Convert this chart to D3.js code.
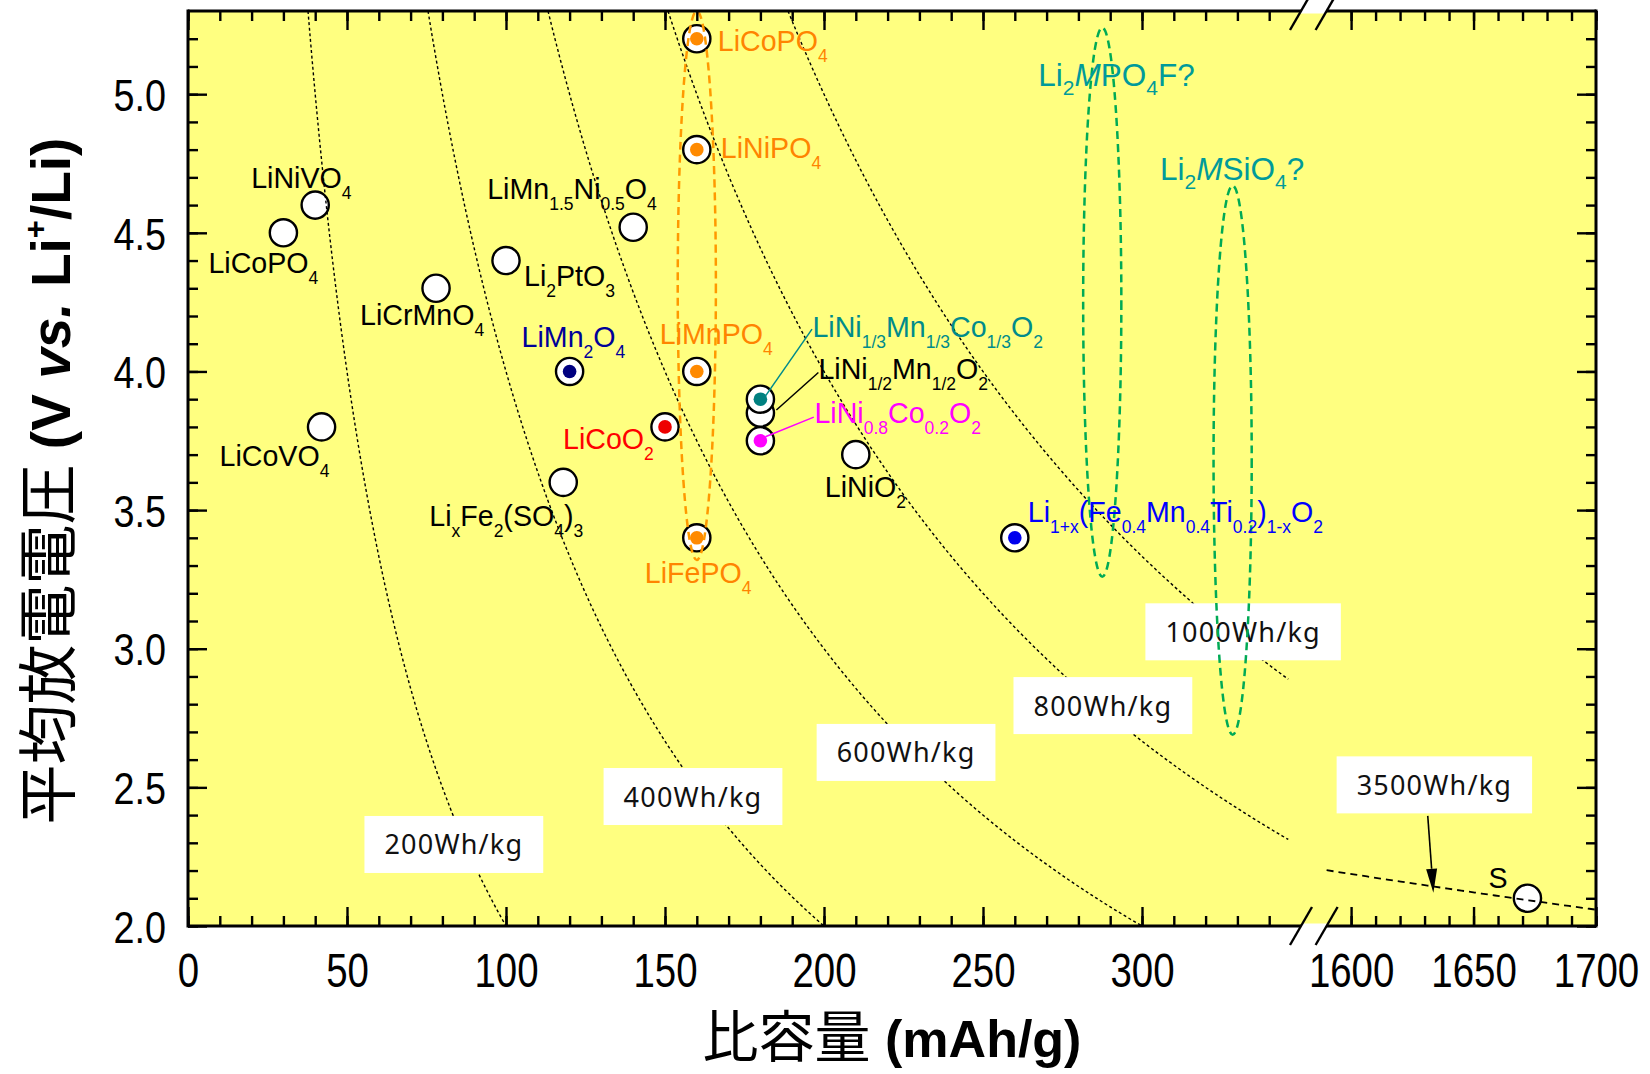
<!DOCTYPE html>
<html>
<head>
<meta charset="utf-8">
<script src="https://cdn.jsdelivr.net/npm/d3@7"></script>
<style>
  body { margin: 0; background: #fff; }
  svg { display: block; }
</style>
</head>
<body>
<svg id="chart" width="1650" height="1074"></svg>
<script>
// ---------- data ----------
const capacityTicksLeft  = [0, 50, 100, 150, 200, 250, 300];
const capacityTicksRight = [1600, 1650, 1700];
const voltageTicks       = [2.0, 2.5, 3.0, 3.5, 4.0, 4.5, 5.0];

// cathode materials (markup: _{} subscript, ^{} superscript, *..* italic)
const materialLabels = [
  "LiNiVO_{4}", "LiCoPO_{4}", "LiCrMnO_{4}", "LiCoVO_{4}", "Li_{2}PtO_{3}",
  "LiMn_{1.5}Ni_{0.5}O_{4}", "LiMn_{2}O_{4}", "LiCoO_{2}", "Li_{x}Fe_{2}(SO_{4})_{3}",
  "LiCoPO_{4}", "LiNiPO_{4}", "LiMnPO_{4}", "LiFePO_{4}",
  "LiNi_{1/2}Mn_{1/2}O_{2}", "LiNi_{1/3}Mn_{1/3}Co_{1/3}O_{2}", "LiNi_{0.8}Co_{0.2}O_{2}",
  "LiNiO_{2}", "Li_{1+x}(Fe_{0.4}Mn_{0.4}Ti_{0.2})_{1-x}O_{2}", "S"
];
const capacities = [40, 30, 78, 42, 100, 140, 120, 150, 118, 160, 160, 160, 160, 180, 180, 180, 210, 260, 1672];
const voltages   = [4.6, 4.5, 4.3, 3.8, 4.4, 4.52, 4.0, 3.8, 3.6, 5.2, 4.8, 4.0, 3.4, 3.85, 3.9, 3.75, 3.7, 3.4, 2.1];
const dotColors  = [null, null, null, null, null, null, "#000080", "#ee0000", null,
  "#ff8a00", "#ff8a00", "#ff8a00", "#ff8a00", null, "#008080", "#ff00ff", null, "#0000ee", null];
const labelColors = ["#000", "#000", "#000", "#000", "#000", "#000", "#000099", "#ff0000", "#000",
  "#ff8400", "#ff8400", "#ff8400", "#ff8400", "#000", "#008b8b", "#ff00ff", "#000", "#0000ff", "#000"];

// energy-density iso-lines V = E / C
const energyLevels = [200, 400, 600, 800, 1000];
const energyLabels = ["200Wh/kg", "400Wh/kg", "600Wh/kg", "800Wh/kg", "1000Wh/kg"];
const energyLabelC = [83.6, 158.8, 225.8, 287.7, 331.8];
const energyLabelV = [2.294, 2.467, 2.626, 2.795, 3.061];
const sulfurEnergy = 3500;
const sulfurLabel  = "3500Wh/kg";
const sulfurLabelC = 1634;
const sulfurLabelV = 2.509;
const sulfurArrowFrom = [1631.3, 2.397];
const sulfurArrowTo   = [1633.6, 2.12];

// material families (dashed ellipses)
const groupLabels = ["", "Li_{2}*M*PO_{4}F?", "Li_{2}*M*SiO_{4}?"];
const groupCx = [160, 287.5, 328.5];
const groupCy = [4.31, 4.25, 3.68];
const groupRx = [6.0, 6.0, 6.0];
const groupRy = [0.99, 0.99, 0.99];
const groupColors = ["#ff9900", "#00aa55", "#00aa55"];
const groupLabelColor = "#009a9a";

// ---------- layout ----------
const svg = d3.select("#chart");
const xL = d3.scaleLinear().domain([0, 350]).range([188, 1301]);
const xR = d3.scaleLinear().domain([1590, 1700]).range([1326.6, 1596]);
const y  = d3.scaleLinear().domain([2, 5.3]).range([926, 11]);
const xOf = c => (c >= 1000 ? xR(c) : xL(c));
const X0 = xL.range()[0], X1 = xR.range()[1], Y0 = y.range()[1], Y1 = y.range()[0];

// label offsets (px) from each marker to the label's start / baseline
const labelOffsets = [
  [-64, -17], [-75, 40], [-76, 37], [-102, 39], [18, 25],
  [-146, -28], [-48, -24], [-102, 22], [-134, 44],
  [21, 12], [24, 8], [-37, -27], [-52, 45],
  [58, -34], [52, -62], [54, -18],
  [-31, 42], [13, -16], [-39, -10]
];
// leader lines (marker-relative, label end -> marker end)
const leaders = [
  { i: 13, from: [58, -40.5], to: [16, -3] },
  { i: 14, from: [51.6, -70], to: [5, -3] },
  { i: 15, from: [53.4, -23.6], to: [5, -4] }
];
const groupLabelOffsets = [null, [-64, 58.5], [-72.6, -6]];

const LABEL_FONT = "'Liberation Sans', Arial, Helvetica, sans-serif";
const BOX_FONT = "'Noto Sans', 'DejaVu Sans', sans-serif";
const CJK_FONT = "'Noto Sans CJK JP', 'Noto Sans CJK SC', sans-serif";

function parseMarkup(s) {
  const out = []; let buf = "", italic = false, i = 0;
  while (i < s.length) {
    const ch = s[i];
    if ((ch === "_" || ch === "^") && s[i + 1] === "{") {
      if (buf) { out.push({ t: buf, mode: "n", italic }); buf = ""; }
      const j = s.indexOf("}", i);
      out.push({ t: s.slice(i + 2, j), mode: ch === "_" ? "sub" : "sup", italic });
      i = j + 1;
    } else if (ch === "*") {
      if (buf) { out.push({ t: buf, mode: "n", italic }); buf = ""; }
      italic = !italic; i++;
    } else { buf += ch; i++; }
  }
  if (buf) out.push({ t: buf, mode: "n", italic });
  return out;
}
function richText(textSel, markup, size, subSize, subShift) {
  let shift = 0;
  parseMarkup(markup).forEach(sg => {
    const target = sg.mode === "sub" ? subShift : sg.mode === "sup" ? -subShift : 0;
    textSel.append("tspan")
      .attr("dy", target - shift)
      .attr("font-size", sg.mode === "n" ? size : subSize)
      .attr("font-style", sg.italic ? "italic" : null)
      .text(sg.t);
    shift = target;
  });
}

// plot background
svg.append("defs").append("clipPath").attr("id", "plotClip")
  .append("rect").attr("x", X0).attr("y", Y0).attr("width", X1 - X0).attr("height", Y1 - Y0);
svg.append("rect").attr("x", X0).attr("y", Y0).attr("width", X1 - X0).attr("height", Y1 - Y0)
  .attr("fill", "#ffff80");

const plot = svg.append("g").attr("clip-path", "url(#plotClip)");

// markers
const idx = d3.range(materialLabels.length);
const markers = plot.selectAll("g.marker").data(idx).join("g").attr("class", "marker")
  .attr("transform", i => `translate(${xOf(capacities[i])},${y(voltages[i])})`);
markers.append("circle").attr("r", 13.6).attr("fill", "#fff").attr("stroke", "#000").attr("stroke-width", 2.4);
markers.filter(i => dotColors[i]).append("circle").attr("r", 6.8).attr("fill", i => dotColors[i]);

// energy-density curves
const curve = d3.line().x(d => d[0]).y(d => d[1]);
energyLevels.forEach(E => {
  const c0 = E / 5.3, c1 = Math.min(E / 2, 346);
  const pts = d3.range(0, 101).map(k => {
    const c = c0 + (c1 - c0) * k / 100;
    return [xL(c), y(E / c)];
  });
  plot.append("path").attr("d", curve(pts)).attr("fill", "none")
    .attr("stroke", "#000").attr("stroke-width", 1.4).attr("stroke-dasharray", "3 2.6");
});
{
  const pts = d3.range(0, 41).map(k => {
    const c = 1590 + 110 * k / 40;
    return [xR(c), y(sulfurEnergy / c)];
  });
  plot.append("path").attr("d", curve(pts)).attr("fill", "none")
    .attr("stroke", "#000").attr("stroke-width", 1.8).attr("stroke-dasharray", "7 5");
}

// energy labels in white boxes
function energyBox(cx, cy, text) {
  const g = plot.append("g").attr("transform", `translate(${cx},${cy})`);
  const rect = g.append("rect").attr("fill", "#fff");
  const t = g.append("text").attr("text-anchor", "middle").attr("y", 10)
    .attr("font-family", BOX_FONT).attr("font-size", 27).attr("letter-spacing", 1.2)
    .attr("fill", "#111").text(text);
  const bb = t.node().getBBox();
  const w = bb.width + 40, h = 57;
  rect.attr("x", -w / 2).attr("y", -h / 2).attr("width", w).attr("height", h);
}
energyLevels.forEach((E, i) => energyBox(xL(energyLabelC[i]), y(energyLabelV[i]), energyLabels[i]));
energyBox(xR(sulfurLabelC), y(sulfurLabelV), sulfurLabel);

// arrow to the sulfur line
{
  const ax = xR(sulfurArrowFrom[0]), ay = y(sulfurArrowFrom[1]);
  const bx = xR(sulfurArrowTo[0]), by = y(sulfurArrowTo[1]);
  const len = Math.hypot(bx - ax, by - ay), ux = (bx - ax) / len, uy = (by - ay) / len;
  const hl = 24, hw = 5.5;
  const baseX = bx - ux * hl, baseY = by - uy * hl;
  plot.append("line").attr("x1", ax).attr("y1", ay).attr("x2", baseX).attr("y2", baseY)
    .attr("stroke", "#000").attr("stroke-width", 1.6);
  plot.append("polygon").attr("fill", "#000").attr("points", [
    [bx, by], [baseX - uy * hw, baseY + ux * hw], [baseX + uy * hw, baseY - ux * hw]
  ].map(p => p.join(",")).join(" "));
}

// family ellipses
plot.selectAll("ellipse.family").data(d3.range(groupCx.length)).join("ellipse")
  .attr("class", "family")
  .attr("cx", i => xL(groupCx[i])).attr("cy", i => y(groupCy[i]))
  .attr("rx", i => xL(groupCx[i] + groupRx[i]) - xL(groupCx[i]))
  .attr("ry", i => y(groupCy[i] - groupRy[i]) - y(groupCy[i]))
  .attr("fill", "none").attr("stroke", i => groupColors[i])
  .attr("stroke-width", 2.5).attr("stroke-dasharray", "8 5");

// family labels
d3.range(groupCx.length).filter(i => groupLabels[i]).forEach(i => {
  const tx = xL(groupCx[i]) + groupLabelOffsets[i][0];
  const ty = y(groupCy[i] + groupRy[i]) + groupLabelOffsets[i][1];
  const t = svg.append("text").attr("x", tx).attr("y", ty)
    .attr("font-family", LABEL_FONT).attr("fill", groupLabelColor);
  richText(t, groupLabels[i], 31.5, 21, 9);
});

// leader lines
leaders.forEach(l => {
  const mx = xOf(capacities[l.i]), my = y(voltages[l.i]);
  svg.append("line")
    .attr("x1", mx + l.from[0]).attr("y1", my + l.from[1])
    .attr("x2", mx + l.to[0]).attr("y2", my + l.to[1])
    .attr("stroke", labelColors[l.i]).attr("stroke-width", 1.5);
});

// material labels
idx.forEach(i => {
  const t = svg.append("text")
    .attr("x", xOf(capacities[i]) + labelOffsets[i][0])
    .attr("y", y(voltages[i]) + labelOffsets[i][1])
    .attr("font-family", LABEL_FONT).attr("fill", labelColors[i]);
  richText(t, materialLabels[i], 28.6, 17.5, 11);
});

// ---------- axes ----------
const TICK = "#000";
function styleAxis(g) {
  g.select(".domain").remove();
  g.selectAll(".tick line").attr("stroke", TICK).attr("stroke-width", 2.4);
}
const fmt1 = d3.format(".1f");

// bottom and top
[[xL, capacityTicksLeft, d3.range(0, 341, 10)], [xR, capacityTicksRight, d3.range(1600, 1701, 10)]]
  .forEach(([sc, major, minor]) => {
    svg.append("g").attr("transform", `translate(0,${Y1})`)
      .call(d3.axisBottom(sc).tickValues(minor).tickSizeInner(-10).tickSizeOuter(0).tickFormat(""))
      .call(styleAxis);
    const gb = svg.append("g").attr("transform", `translate(0,${Y1})`)
      .call(d3.axisBottom(sc).tickValues(major).tickSizeInner(-19).tickSizeOuter(0).tickFormat(d3.format("d")))
      .call(styleAxis);
    gb.selectAll(".tick text").attr("y", 61).attr("dy", 0)
      .attr("font-family", LABEL_FONT).attr("font-size", 48).attr("fill", "#000")
      .attr("transform", "scale(0.8,1)");
    svg.append("g").attr("transform", `translate(0,${Y0})`)
      .call(d3.axisTop(sc).tickValues(minor).tickSizeInner(-10).tickSizeOuter(0).tickFormat(""))
      .call(styleAxis);
    svg.append("g").attr("transform", `translate(0,${Y0})`)
      .call(d3.axisTop(sc).tickValues(major).tickSizeInner(-19).tickSizeOuter(0).tickFormat(""))
      .call(styleAxis);
  });

// left and right
const vMinor = d3.range(20, 53).map(v => v / 10);
svg.append("g").attr("transform", `translate(${X0},0)`)
  .call(d3.axisLeft(y).tickValues(vMinor).tickSizeInner(-10).tickSizeOuter(0).tickFormat(""))
  .call(styleAxis);
const gl = svg.append("g").attr("transform", `translate(${X0},0)`)
  .call(d3.axisLeft(y).tickValues(voltageTicks).tickSizeInner(-19).tickSizeOuter(0).tickFormat(fmt1))
  .call(styleAxis);
gl.selectAll(".tick text").attr("x", 0).attr("dy", "0.36em").attr("text-anchor", "end")
  .attr("font-family", LABEL_FONT).attr("font-size", 45).attr("fill", "#000")
  .attr("transform", "translate(-22,0) scale(0.84,1)");
svg.append("g").attr("transform", `translate(${X1},0)`)
  .call(d3.axisRight(y).tickValues(vMinor).tickSizeInner(-10).tickSizeOuter(0).tickFormat(""))
  .call(styleAxis);
svg.append("g").attr("transform", `translate(${X1},0)`)
  .call(d3.axisRight(y).tickValues(voltageTicks).tickSizeInner(-19).tickSizeOuter(0).tickFormat(""))
  .call(styleAxis);

// frame with axis break
const frame = svg.append("g").attr("stroke", "#000").attr("stroke-width", 3).attr("fill", "none");
frame.append("line").attr("x1", X0).attr("y1", Y0 - 1.5).attr("x2", X0).attr("y2", Y1 + 1.5);
frame.append("line").attr("x1", X1).attr("y1", Y0 - 1.5).attr("x2", X1).attr("y2", Y1 + 1.5);
[Y0, Y1].forEach(yy => {
  frame.append("line").attr("x1", X0).attr("y1", yy).attr("x2", X1).attr("y2", yy);
});
const breakL = xL.range()[1], breakR = xR.range()[0];
[Y0, Y1].forEach(yy => {
  const xs = (cx, yv) => cx - (yv - yy) * 11 / 19;
  // white gap between the break marks
  const y1g = yy === Y0 ? yy - 22 : yy - 2.5;
  const y2g = yy === Y0 ? yy + 2.5 : yy + 22;
  svg.append("polygon").attr("fill", "#fff").attr("points", [
    [xs(breakL, y1g), y1g], [xs(breakR, y1g), y1g], [xs(breakR, y2g), y2g], [xs(breakL, y2g), y2g]
  ].map(p => p.join(",")).join(" "));
  [breakL, breakR].forEach(cx => {
    svg.append("line").attr("x1", cx - 11).attr("y1", yy + 19).attr("x2", cx + 11).attr("y2", yy - 19)
      .attr("stroke", "#000").attr("stroke-width", 2.4);
  });
});

// axis titles
{
  const t = svg.append("text").attr("x", 892).attr("y", 1057).attr("text-anchor", "middle").attr("fill", "#000");
  t.append("tspan").attr("font-family", CJK_FONT).attr("font-size", 56).text("比容量");
  t.append("tspan").attr("font-family", LABEL_FONT).attr("font-weight", "bold").attr("font-size", 52)
    .text(" (mAh/g)");
}
{
  const t = svg.append("text").attr("transform", "translate(70,481) rotate(-90)")
    .attr("text-anchor", "middle").attr("fill", "#000");
  t.append("tspan").attr("font-family", CJK_FONT).attr("font-size", 60).text("平均放電電圧");
  const lat = s => t.append("tspan").attr("font-family", LABEL_FONT).attr("font-weight", "bold").attr("font-size", 55).text(s);
  lat(" (V ");
  lat("vs.").attr("font-style", "italic");
  lat(" Li");
  t.append("tspan").attr("font-family", LABEL_FONT).attr("font-weight", "bold").attr("font-size", 31)
    .attr("dy", -24).text("+");
  lat("/Li)").attr("dy", 24);
}
</script>
</body>
</html>
